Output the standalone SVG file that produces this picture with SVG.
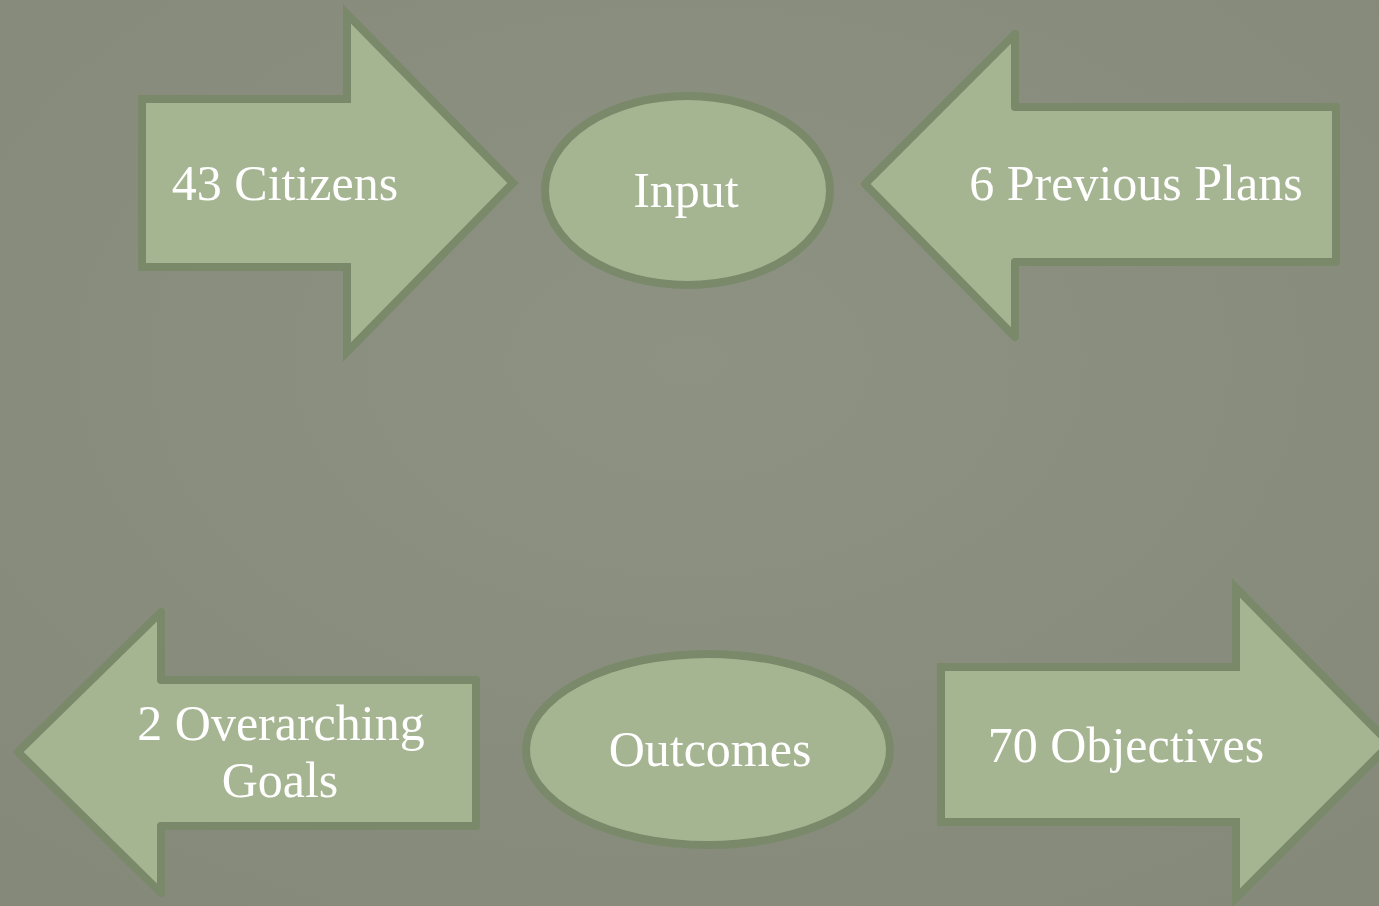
<svg xmlns="http://www.w3.org/2000/svg" width="1379" height="906" viewBox="0 0 1379 906">
  <defs>
    <radialGradient id="bg" cx="50%" cy="40%" r="75%">
      <stop offset="0" stop-color="#8d9282"/>
      <stop offset="1" stop-color="#848979"/>
    </radialGradient>
  </defs>
  <style>
    .shape { fill: #a6b591; stroke: #7a8969; stroke-width: 8; }
    .rj { stroke-linejoin: round; }
    .mj { stroke-linejoin: miter; }
    .lbl { fill: #ffffff; font-family: "Liberation Serif", "DejaVu Serif", serif; font-size: 50px; text-anchor: middle; }
  </style>
  <rect x="0" y="0" width="1379" height="906" fill="url(#bg)"/>
  <g id="connectors"/>
  <g id="node-citizens">
    <polygon class="shape mj" points="142,99 347,99 347,14 513,183 347,352 347,267 142,267"/>
    <text class="lbl" x="285" y="200">43 Citizens</text>
  </g>
  <g id="node-input">
    <ellipse class="shape" cx="687.5" cy="190.5" rx="142.5" ry="94.5"/>
    <text class="lbl" x="686" y="207">Input</text>
  </g>
  <g id="node-previous-plans">
    <polygon class="shape rj" points="1336,107 1015,107 1015,34 865,184 1015,337 1015,262 1336,262"/>
    <text class="lbl" x="1136" y="200">6 Previous Plans</text>
  </g>
  <g id="node-goals">
    <polygon class="shape rj" points="476,680 161,680 161,612 18,752 161,893 161,826 476,826"/>
    <text class="lbl" x="281" y="740">2 Overarching</text>
    <text class="lbl" x="280" y="797">Goals</text>
  </g>
  <g id="node-outcomes">
    <ellipse class="shape" cx="708" cy="749.5" rx="182" ry="95.5"/>
    <text class="lbl" x="710" y="766">Outcomes</text>
  </g>
  <g id="node-objectives">
    <polygon class="shape mj" points="941,667 1236,667 1236,588 1390,744 1236,898 1236,822 941,822"/>
    <text class="lbl" x="1126" y="762">70 Objectives</text>
  </g>
</svg>
